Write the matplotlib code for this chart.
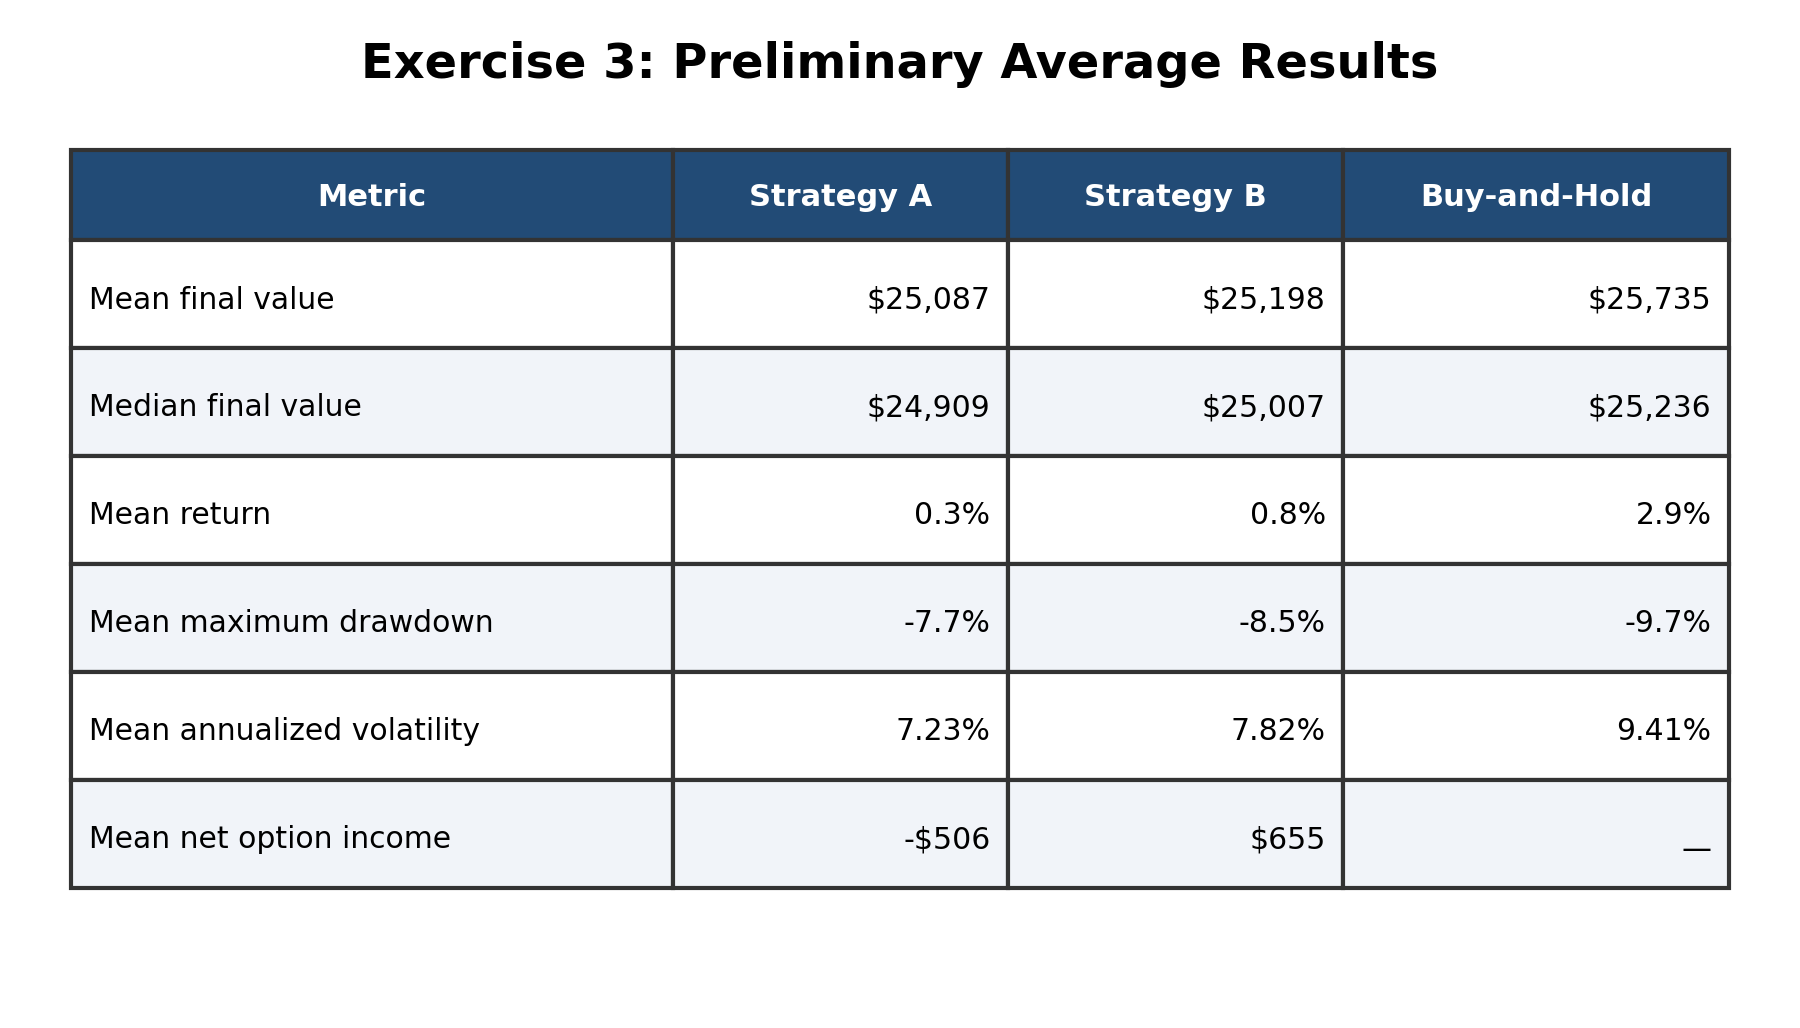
import matplotlib.pyplot as plt
from matplotlib.transforms import Affine2D

columns = ["Metric", "Strategy A", "Strategy B", "Buy-and-Hold"]
metrics = ["Mean final value", "Median final value", "Mean return",
           "Mean maximum drawdown", "Mean annualized volatility",
           "Mean net option income"]
strategy_a = ["$25,087", "$24,909", "0.3%", "-7.7%", "7.23%", "-$506"]
strategy_b = ["$25,198", "$25,007", "0.8%", "-8.5%", "7.82%", "$655"]
buy_hold = ["$25,735", "$25,236", "2.9%", "-9.7%", "9.41%", "\u2014"]

HEADER = "#224b76"
STRIPE = "#f1f4f9"
EDGE = "#333333"


def main():
    fig = plt.figure(figsize=(18, 10.28), dpi=100)
    ax = fig.add_axes([0, 0, 1, 1])
    ax.set_axis_off()

    fig.text(0.5, 0.937, "Exercise 3: Preliminary Average Results",
             ha="center", va="center", fontsize=34.5, fontweight="bold")

    rows = [list(r) for r in zip(metrics, strategy_a, strategy_b, buy_hold)]
    left, right = 0.0395, 0.9605
    top, head_bot, bottom = 0.8536, 0.7665, 0.1363
    raw = [524, 292, 292, 336]
    widths = [w / sum(raw) * (right - left) for w in raw]
    pad_px = 17.5

    tbl = ax.table(cellText=rows, colLabels=columns, colWidths=widths,
                   bbox=[left, bottom, right - left, top - bottom])
    tbl.auto_set_font_size(False)
    n = len(rows)
    row_h = (head_bot - bottom) / n
    for (r, c), cell in tbl.get_celld().items():
        cell.set_edgecolor(EDGE)
        cell.set_linewidth(3)
        cell.PAD = pad_px / (widths[c] * 1800)
        txt = cell.get_text()
        if r == 0:
            cell.set_height(top - head_bot)
            cell.set_facecolor(HEADER)
            txt.set_fontsize(22)
            txt.set_color("white")
            txt.set_fontweight("bold")
            txt.set_transform(Affine2D().translate(0, -2))
        else:
            cell.set_height(row_h)
            cell.set_facecolor(STRIPE if r % 2 == 0 else "white")
            txt.set_fontsize(21.5)
            txt.set_color("black")
            cell._loc = "left" if c == 0 else "right"
            txt.set_ha(cell._loc)
            shift = -16 if txt.get_text() == "\u2014" else -6
            txt.set_transform(Affine2D().translate(0, shift))
    fig.savefig("out.png", dpi=100, facecolor="white")


if __name__ == "__main__":
    main()
